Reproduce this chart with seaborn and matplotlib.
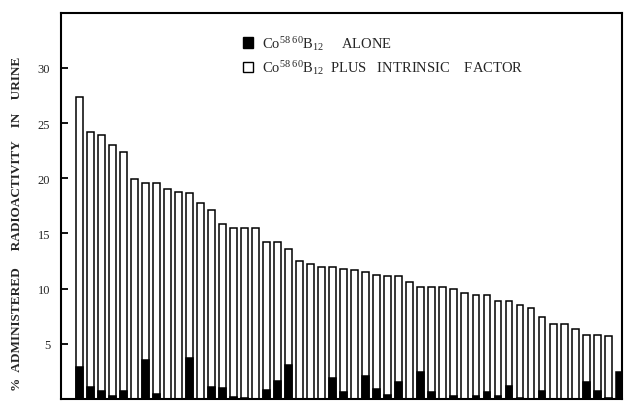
import numpy as np
import matplotlib
matplotlib.use("Agg")
import matplotlib.pyplot as plt
from matplotlib.patches import Patch
import seaborn as sns

# === DATA ===
patients = list(range(1, 51))
plus_intrinsic = [27.4, 24.2, 23.9, 23.0, 22.4, 19.9, 19.6, 19.6, 19.0, 18.8,
                  18.7, 17.8, 17.1, 15.9, 15.5, 15.5, 15.5, 14.2, 14.2, 13.6,
                  12.5, 12.2, 12.0, 12.0, 11.8, 11.7, 11.5, 11.2, 11.1, 11.1,
                  10.6, 10.1, 10.1, 10.1, 10.0, 9.6, 9.4, 9.4, 8.9, 8.9,
                  8.5, 8.2, 7.4, 6.8, 6.8, 6.3, 5.8, 5.8, 5.7, 0.0]
alone = [2.9, 1.1, 0.75, 0.25, 0.7, 0.0, 3.55, 0.45, 0.0, 0.0,
         3.7, 0.0, 1.1, 0.95, 0.15, 0.1, 0.0, 0.8, 1.6, 3.05,
         0.0, 0.0, 0.0, 1.9, 0.6, 0.0, 2.1, 0.9, 0.35, 1.5,
         0.0, 2.4, 0.6, 0.0, 0.3, 0.0, 0.27, 0.66, 0.27, 1.2,
         0.12, 0.0, 0.7, 0.0, 0.0, 0.0, 1.5, 0.7, 0.1, 2.4]
yticks = [5, 10, 15, 20, 25, 30]
legend_labels = [r"Co$^{58\ 60}$B$_{12}$     ALONE",
                 r"Co$^{58\ 60}$B$_{12}$  PLUS   INTRINSIC    FACTOR"]

# === STYLE ===
sns.set_style("white")
plt.rcParams["font.family"] = ["Liberation Serif", "DejaVu Serif"]
plt.rcParams["mathtext.fontset"] = "custom"
plt.rcParams["mathtext.rm"] = "Liberation Serif"
plt.rcParams["mathtext.it"] = "Liberation Serif:italic"

fig = plt.figure(figsize=(6.27, 4.06), dpi=100)
ax = fig.add_axes([0.098, 0.015, 0.894, 0.951])

sns.barplot(x=patients, y=plus_intrinsic, color="white", edgecolor="black",
            linewidth=1.1, width=0.62, ax=ax, saturation=1)
sns.barplot(x=patients, y=alone, color="black", edgecolor="black",
            linewidth=1.1, width=0.62, ax=ax, saturation=1)

ax.set_xlim(-1.6, 49.25)
ax.set_ylim(0, 35)
ax.set_xticks([])
ax.set_xlabel("")
ax.set_yticks(yticks)
ax.set_yticklabels([str(t) for t in yticks], fontsize=9)
ax.tick_params(axis="y", which="major", left=True, direction="in",
               length=5, width=1.3, color="black", pad=8)
for side in ax.spines.values():
    side.set_visible(True)
    side.set_color("black")
    side.set_linewidth(1.5)

ax.set_ylabel("%  ADMINISTERED     RADIOACTIVITY    IN    URINE",
              fontsize=9.5, fontweight="bold")
ax.yaxis.set_label_coords(-0.068, 0.455)

handles = [Patch(facecolor="black", edgecolor="black"),
           Patch(facecolor="white", edgecolor="black")]
ax.legend(handles, legend_labels, loc="upper left",
          bbox_to_anchor=(0.30, 0.98), frameon=False, fontsize=10.5,
          handlelength=0.7, handleheight=0.7, handletextpad=0.6,
          labelspacing=0.45)

plt.savefig("out.png", dpi=100)
